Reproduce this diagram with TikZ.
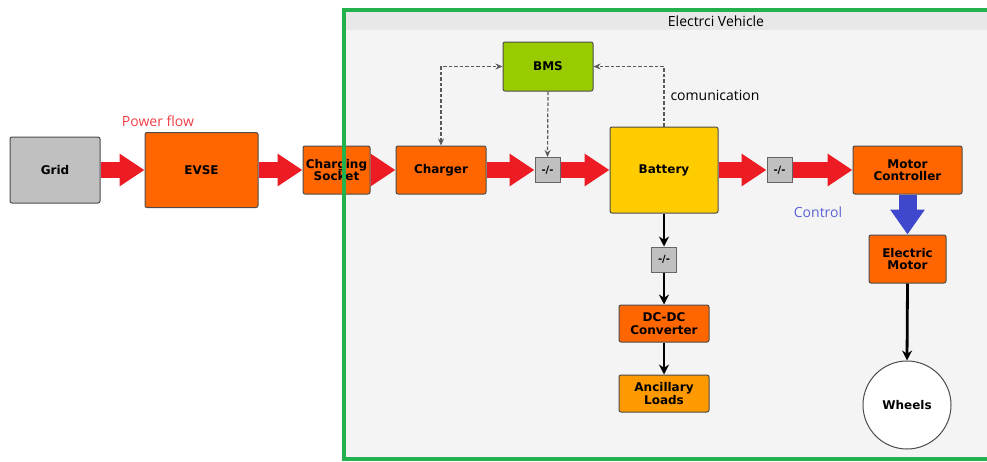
\documentclass[tikz,border=0pt]{standalone}
\usepackage{fontspec}
\setmainfont{DejaVu Sans}
\newfontfamily\notefont{Open Sans}
\usetikzlibrary{positioning,calc,arrows.meta}
\definecolor{EVorange}{HTML}{FF6600}
\definecolor{EVamber}{HTML}{FF9900}
\definecolor{EVyellow}{HTML}{FFCC00}
\definecolor{EVlime}{HTML}{99CC00}
\definecolor{EVgrey}{HTML}{C0C0C0}
\definecolor{EVred}{HTML}{ED1C24}
\definecolor{EVblue}{HTML}{3F48CC}
\definecolor{EVgreen}{HTML}{22B14C}
\definecolor{EVpanel}{HTML}{F4F4F4}
\definecolor{EVstrip}{HTML}{E8E8E8}
\tikzset{
  blk/.style={draw=black!70,line width=1pt,rounded corners=2pt,align=center,
    font=\bfseries\fontsize{12}{12.5}\selectfont,inner sep=1pt},
  sw/.style={draw=black!60,fill=EVgrey,line width=1pt,minimum size=25pt,
    inner sep=0pt,font=\bfseries\fontsize{10}{10}\selectfont},
  power/.style={EVred,line width=16pt,-{Triangle[length=25pt,width=31pt]}},
  ctrl/.style={EVblue,line width=18pt,-{Triangle[length=25pt,width=33pt]}},
  comm/.style={black!65,line width=1.2pt,dash pattern=on 3.5pt off 2pt,
    -{Stealth[length=7pt,width=6pt]}},
  feed/.style={black,line width=2.8pt,-{Stealth[length=10pt,width=10pt]}},
  note/.style={font=\notefont\fontsize{14}{15}\selectfont},
}

\begin{document}
\begin{tikzpicture}[x=1pt,y=-1pt]
  \useasboundingbox (0,0) rectangle (987,461);

  % vehicle panel
  \fill[EVpanel] (344,10) rectangle (995,459);
  \fill[EVstrip] (346,12) rectangle (987,30);
  \node[note] (evtitle) at (716,21) {Electrci Vehicle};

  % outside the vehicle
  \node[blk,fill=EVgrey,minimum width=90pt,minimum height=66pt] (grid) at (55,170) {Grid};
  \node[blk,fill=EVorange,minimum width=113pt,minimum height=75pt] (evse) at (201.5,170) {EVSE};
  \node[blk,fill=EVorange,minimum width=67pt,minimum height=48pt] (socket) at (336.5,170) {Charging\\Socket};
  \node[note,text=EVred!85] (pflow) at (158,121) {Power flow};

  % power path
  \node[blk,fill=EVorange,minimum width=90pt,minimum height=48pt] (charger) at (441,170) {Charger};
  \node[sw] (swA) at (547.5,170) {-/-};
  \node[blk,fill=EVyellow,minimum width=108pt,minimum height=86pt] (battery) at (664,170) {Battery};
  \node[sw] (swB) at (779.5,170) {-/-};
  \node[blk,fill=EVorange,minimum width=109pt,minimum height=48pt] (motorctl) at (907.5,170) {Motor\\Controller};

  % management
  \node[blk,fill=EVlime,minimum width=90pt,minimum height=49pt] (bms) at (548,66.5) {BMS};
  \node[note,anchor=west] (commlab) at (667,95) {comunication};

  % auxiliary branch
  \node[sw] (swC) at (664,259.5) {-/-};
  \node[blk,fill=EVorange,minimum width=90pt,minimum height=37pt] (dcdc) at (664,323.5) {DC-DC\\Converter};
  \node[blk,fill=EVamber,minimum width=90pt,minimum height=37pt] (loads) at (664,393.5) {Ancillary\\Loads};

  % drive
  \node[blk,fill=EVorange,minimum width=77pt,minimum height=48pt] (motor) at (907.5,259) {Electric\\Motor};
  \node[blk,circle,fill=white,minimum size=88pt,rounded corners=0pt] (wheels) at (907,405) {Wheels};
  \node[note,text=EVblue!85] (ctrllab) at (818,212) {Control};

  % power flow arrows
  \draw[power] (grid.east) -- (evse.west);
  \draw[power] (evse.east) -- (socket.west);
  \draw[power] (socket.east) -- (charger.west);
  \draw[power] (charger.east) -- (swA.west);
  \draw[power] (swA.east) -- (battery.west);
  \draw[power] (battery.east) -- (swB.west);
  \draw[power] (swB.east) -- (motorctl.west);
  \draw[ctrl] (motorctl.south) -- (motor.north);

  % communication
  \draw[comm,{Stealth[length=7pt,width=6pt]}-{Stealth[length=7pt,width=6pt]}] (charger.north) |- (bms.west);
  \draw[comm] (battery.north) |- (bms.east);
  \draw[comm] (bms.south) -- (swA.north);

  % feeds
  \draw[feed] (battery.south) -- (swC.north);
  \draw[feed] (swC.south) -- (dcdc.north);
  \draw[feed] (dcdc.south) -- (loads.north);
  \draw[feed] (motor.south) -- (wheels.north);

  % vehicle border
  \draw[EVgreen,line width=4pt] (344,10) rectangle (995,459);
\end{tikzpicture}
\end{document}
